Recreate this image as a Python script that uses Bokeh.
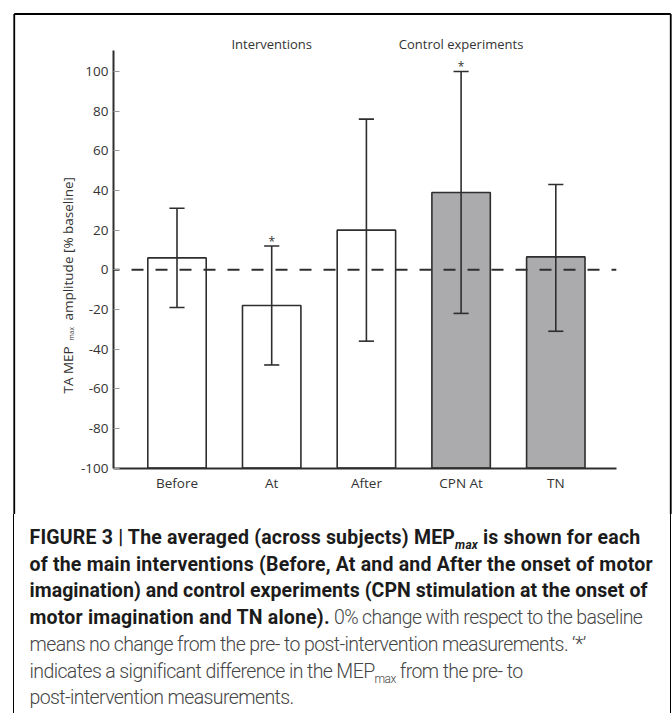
import math
from bokeh.plotting import figure
from bokeh.models import (Range1d, FixedTicker, Label, ColumnDataSource, Div, LinearAxis)
from bokeh.layouts import column
from bokeh.core.properties import value
from bokeh.embed import file_html
from bokeh.resources import INLINE

# ---- data ----
categories = ["Before", "At", "After", "CPN At", "TN"]
means = [6, -18, 20, 39, 6.5]
upper = [31, 12, 76, 100, 43]
lower = [-19, -48, -36, -22, -31]
significant = [False, True, False, True, False]
is_control = [False, False, False, True, True]
group_labels = ["Interventions", "Control experiments"]
group_centers = [1, 3]
y_ticks = [-100, -80, -60, -40, -20, 0, 20, 40, 60, 80, 100]
y_min, y_max = -100, 110.5
x_min, x_max = -0.6705, 4.6389

# decorative page frame (in plot coordinates)
frame_left, frame_right, frame_top, frame_bottom = -1.7186, 5.2138, 129.0, -130.0

LINE = "#2e2e2e"
TEXT = "#333333"
FONT = "Open Sans"

xs = list(range(len(categories)))
fills = ["#ababad" if c else "#ffffff" for c in is_control]

W, H = 672, 514
p = figure(width=W, height=H, output_backend="svg", toolbar_location=None,
           x_range=Range1d(-1.8638, 5.2323), y_range=Range1d(-123.41, 135.80),
           x_axis_type=None, y_axis_type=None,
           min_border_left=0, min_border_right=0, min_border_top=0, min_border_bottom=0)
p.outline_line_color = None
p.grid.visible = False
p.background_fill_color = "white"
p.border_fill_color = "white"

# border of the whole figure (top, left, right)
p.segment(x0=[frame_left, frame_left, frame_right], y0=[frame_top, frame_bottom, frame_bottom],
          x1=[frame_right, frame_left, frame_right], y1=[frame_top, frame_top, frame_top],
          line_color="#000000", line_width=1.8)

src = ColumnDataSource(dict(x=xs, top=means, up=upper, lo=lower, fill=fills))
p.vbar(x="x", width=0.617, bottom=y_min, top="top", source=src,
       fill_color="fill", line_color=LINE, line_width=1.6)

p.segment(x0=[x_min], y0=[0], x1=[x_max], y1=[0], line_color=LINE, line_width=2,
          line_dash="12 12", line_dash_offset=6)

p.segment(x0="x", y0="lo", x1="x", y1="up", source=src, line_color=LINE, line_width=1.6)
cap = 0.08
p.segment(x0=[x - cap for x in xs], y0=upper, x1=[x + cap for x in xs], y1=upper,
          line_color=LINE, line_width=1.6)
p.segment(x0=[x - cap for x in xs], y0=lower, x1=[x + cap for x in xs], y1=lower,
          line_color=LINE, line_width=1.6)

sx = [x for x, s in zip(xs, significant) if s]
sy = [u + 2.5 for u, s in zip(upper, significant) if s]
p.text(x=sx, y=sy, text=["*"] * len(sx), text_font=value(FONT), text_font_size="12px",
       text_align="center", text_baseline="alphabetic", text_color=TEXT)

for name, cx in zip(group_labels, group_centers):
    p.add_layout(Label(x=cx, y=114.1, text=name, text_align="center", text_baseline="middle",
                       text_font=FONT, text_font_size="13px", text_color=TEXT))

# y axis label pieces (with subscript)
p.add_layout(Label(x=-1.146, y=-62.4, text="TA MEP", angle=math.pi / 2, text_align="left",
                   text_baseline="middle", text_font=FONT, text_font_size="13.5px", text_color=TEXT))
p.add_layout(Label(x=-1.112, y=-35.5, text="max", angle=math.pi / 2, text_align="left",
                   text_baseline="middle", text_font=FONT, text_font_size="6.5px", text_color=TEXT))
p.add_layout(Label(x=-1.146, y=-25.6, text="amplitude [% baseline]", angle=math.pi / 2,
                   text_align="left", text_baseline="middle", text_font=FONT,
                   text_font_size="13.5px", text_color=TEXT))

# axes drawn at fixed data locations inside the canvas
ya = LinearAxis(fixed_location=x_min, bounds=(y_min, y_max))
ya.ticker = FixedTicker(ticks=y_ticks)
ya.major_label_overrides = {t: str(t) for t in y_ticks}
ya.major_tick_in = 6
ya.major_tick_out = 0
ya.major_tick_line_color = "#9a9a9a"
ya.major_tick_line_width = 1
ya.minor_tick_line_color = None
ya.axis_line_color = LINE
ya.axis_line_width = 2
ya.major_label_standoff = 5
ya.major_label_text_font = FONT
ya.major_label_text_font_size = "13.5px"
ya.major_label_text_color = TEXT
p.add_layout(ya, "left")

xa = LinearAxis(fixed_location=y_min, bounds=(x_min, x_max))
xa.ticker = FixedTicker(ticks=xs)
xa.major_label_overrides = {i: c for i, c in enumerate(categories)}
xa.major_tick_line_color = None
xa.minor_tick_line_color = None
xa.major_tick_out = 0
xa.major_tick_in = 0
xa.axis_line_color = LINE
xa.axis_line_width = 2
xa.major_label_standoff = 6
xa.major_label_text_font = FONT
xa.major_label_text_font_size = "13.5px"
xa.major_label_text_color = TEXT
p.add_layout(xa, "below")

B = "color:#1b1b1b;font-weight:700;letter-spacing:0.2px;"
R = "color:#454545;font-weight:300;letter-spacing:-0.6px;"
SUB = "font-size:12px;line-height:0;"
caption_html = (
    '<div style="margin-left:13px;width:658px;height:199px;box-sizing:border-box;'
    'border-left:1.8px solid #000;border-right:1.8px solid #000;'
    'font-family:Roboto;font-size:19.5px;line-height:26.7px;white-space:nowrap;'
    'padding-left:15.5px;padding-top:11px;">'
    f'<span style="{B}">FIGURE 3 | The averaged (across subjects) MEP<sub style="{SUB}"><i>max</i></sub> is shown for each</span><br>'
    f'<span style="{B}">of the main interventions (Before, At and and After the onset of motor</span><br>'
    f'<span style="{B}letter-spacing:0.05px;">imagination) and control experiments (CPN stimulation at the onset of</span><br>'
    f'<span style="{B}">motor imagination and TN alone).</span><span style="{R}"> 0% change with respect to the baseline</span><br>'
    f'<span style="{R}">means no change from the pre- to post-intervention measurements. \u2018*\u2019</span><br>'
    f'<span style="{R}">indicates a significant difference in the MEP<sub style="{SUB}">max</sub> from the pre- to</span><br>'
    f'<span style="{R}">post-intervention measurements.</span>'
    '</div>'
)
cap_div = Div(text=caption_html, width=W, height=199, margin=(0, 0, 0, 0))

layout = column(p, cap_div)

open("out.html", "w").write(file_html(layout, INLINE))
